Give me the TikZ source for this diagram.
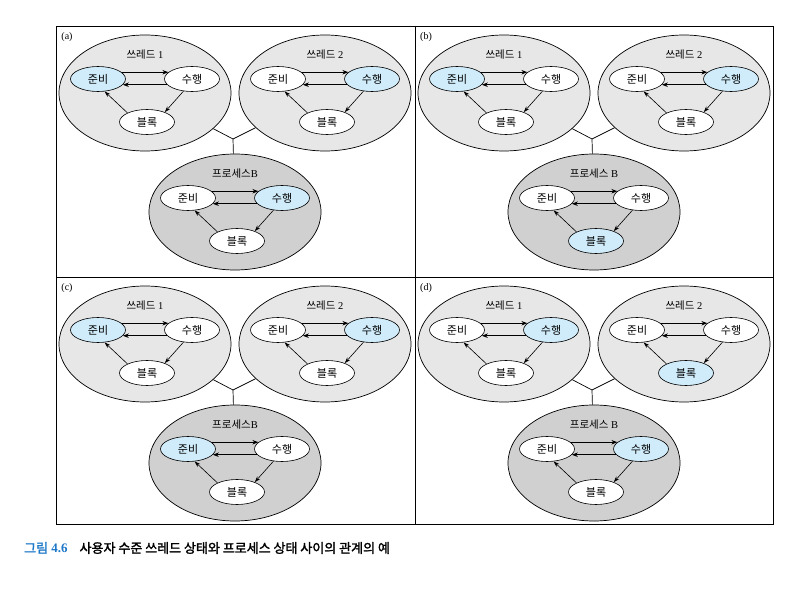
\documentclass[tikz,border=0pt]{standalone}
\usepackage{fontspec}
\setmainfont{Liberation Serif}
\newfontfamily\kr[AutoFakeBold=2]{Noto Sans CJK KR}
\usetikzlibrary{shapes.geometric, arrows.meta}

\definecolor{thrgray}{RGB}{231,231,231}
\definecolor{procgray}{RGB}{208,208,208}
\definecolor{runblue}{RGB}{208,236,250}
\definecolor{capblue}{RGB}{30,120,200}

\tikzset{
  grpbox/.style={ellipse, draw, line width=0.7pt, minimum width=172pt, minimum height=116pt, inner sep=0pt},
  grplabel/.style={font=\fontsize{10.5}{12}\selectfont, inner sep=0pt},
  statebox/.style={ellipse, draw, line width=0.6pt, minimum width=55pt, minimum height=25pt, inner sep=0pt, font=\kr\fontsize{11}{13}\selectfont},
  goarrow/.style={-{Stealth[length=6pt,width=4.5pt]}, line width=1pt},
  backarrow/.style={-{Stealth[length=6pt,width=4.5pt]}, line width=1.5pt},
  diagarrow/.style={-{Stealth[length=6pt,width=4pt]}, line width=0.6pt},
  joinline/.style={line width=0.7pt},
  tagtext/.style={font=\fontsize{10}{12}\selectfont, inner sep=0pt}
}

% one thread or process: big ellipse with its three states
\newcommand{\stategroup}[7]{%
  \begin{scope}[shift={(#2)}]
    \node[grpbox, fill=#3] (#1) at (0,0) {};
    \node[grplabel] (#1l) at (0,-38) {#4};
    \node[statebox, fill=#5] (#1r) at (-47,-14) {준비};
    \node[statebox, fill=#6] (#1s) at (47,-14) {수행};
    \node[statebox, fill=#7] (#1b) at (2,29) {블록};
    \draw[goarrow] (#1r.16) -- (#1s.164);
    \draw[backarrow] (#1s.193) -- (#1r.347);
    \draw[diagarrow] (#1s.235) -- (#1b.29);
    \draw[diagarrow] (#1b.155) -- (#1r.298);
  \end{scope}}

\begin{document}
\begin{tikzpicture}[x=1pt, y=-1pt]
  \useasboundingbox (0,0) rectangle (790,593);
  % frame
  \draw[line width=0.8pt] (56,26) rectangle (773,524);
  \draw[line width=0.8pt] (415,26) -- (415,524);
  \draw[line width=0.8pt] (56,277) -- (773,277);

  % (a)
  \begin{scope}[shift={(56,26)}]
    \node[tagtext] (atag) at (11,11) {(a)};
    \stategroup{aT}{89,67}{thrgray}{{\kr 쓰레드} 1}{runblue}{white}{white}
    \stategroup{aU}{269,67}{thrgray}{{\kr 쓰레드} 2}{white}{runblue}{white}
    \stategroup{aP}{179,186}{procgray}{{\kr 프로세스}B}{white}{runblue}{white}
    \coordinate (ajn) at (177,113);
    \draw[joinline] (ajn) -- (aT) (ajn) -- (aU) (ajn) -- (aP);
  \end{scope}

  % (b)
  \begin{scope}[shift={(415,26)}]
    \node[tagtext] (btag) at (11,11) {(b)};
    \stategroup{bT}{89,67}{thrgray}{{\kr 쓰레드} 1}{runblue}{white}{white}
    \stategroup{bU}{269,67}{thrgray}{{\kr 쓰레드} 2}{white}{runblue}{white}
    \stategroup{bP}{179,186}{procgray}{{\kr 프로세스} B}{white}{white}{runblue}
    \coordinate (bjn) at (177,113);
    \draw[joinline] (bjn) -- (bT) (bjn) -- (bU) (bjn) -- (bP);
  \end{scope}

  % (c)
  \begin{scope}[shift={(56,277)}]
    \node[tagtext] (ctag) at (11,11) {(c)};
    \stategroup{cT}{89,67}{thrgray}{{\kr 쓰레드} 1}{runblue}{white}{white}
    \stategroup{cU}{269,67}{thrgray}{{\kr 쓰레드} 2}{white}{runblue}{white}
    \stategroup{cP}{179,186}{procgray}{{\kr 프로세스}B}{runblue}{white}{white}
    \coordinate (cjn) at (177,113);
    \draw[joinline] (cjn) -- (cT) (cjn) -- (cU) (cjn) -- (cP);
  \end{scope}

  % (d)
  \begin{scope}[shift={(415,277)}]
    \node[tagtext] (dtag) at (11,11) {(d)};
    \stategroup{dT}{89,67}{thrgray}{{\kr 쓰레드} 1}{white}{runblue}{white}
    \stategroup{dU}{269,67}{thrgray}{{\kr 쓰레드} 2}{white}{white}{runblue}
    \stategroup{dP}{179,186}{procgray}{{\kr 프로세스} B}{white}{runblue}{white}
    \coordinate (djn) at (177,113);
    \draw[joinline] (djn) -- (dT) (djn) -- (dU) (djn) -- (dP);
  \end{scope}

  % caption
  \node[anchor=west, inner sep=0pt, font=\fontsize{13}{15}\selectfont\bfseries] (cap) at (24,548)
    {\textcolor{capblue}{{\kr 그림} 4.6}\hspace{12pt}{\kr 사용자 수준 쓰레드 상태와 프로세스 상태 사이의 관계의 예}};
\end{tikzpicture}
\end{document}
